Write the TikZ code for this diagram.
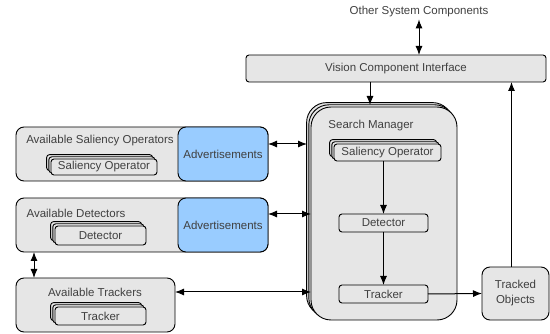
\documentclass[tikz,border=0pt]{standalone}
\usepackage{fontspec}
\setmainfont{Liberation Sans}
\usetikzlibrary{shadows,arrows.meta}
\definecolor{boxgray}{HTML}{E6E6E6}
\definecolor{advblue}{HTML}{99CCFF}
\definecolor{txtgray}{HTML}{404040}
\begin{document}
\begin{tikzpicture}[x=1pt,y=-1pt,
  font=\fontsize{11.5}{13}\selectfont, text=txtgray,
  every node/.style={outer sep=0pt, inner sep=0pt},
  box/.style={draw=black, line width=0.9pt, fill=boxgray, rounded corners=3pt, anchor=north west},
  group/.style={box, rounded corners=8pt},
  adv/.style={draw=black, line width=0.9pt, fill=advblue, rounded corners=8pt, anchor=north west},
  stack/.style={box, double copy shadow={shadow xshift=-2.2pt, shadow yshift=2.2pt, fill=boxgray, draw=black, line width=0.9pt}},
  conn/.style={line width=1pt, -{Latex[length=9pt,width=7pt]}},
  biconn/.style={line width=1pt, {Latex[length=9pt,width=7pt]}-{Latex[length=9pt,width=7pt]}},
  label/.style={anchor=center}
]
\useasboundingbox (0,0) rectangle (550,334);

% top: external components and the interface bar
\node[label] (other) at (419,12) {Other System Components};
\node[box, minimum width=300pt, minimum height=27pt] (vci) at (246,55) {};
\node[label] at (vci.center) {Vision Component Interface};

% search manager with its pipeline
\node[stack, rounded corners=20pt, minimum width=146pt, minimum height=213pt] (sm) at (311,107) {};
\node[label] (smtitle) at (371,126) {Search Manager};
\node[stack, minimum width=107pt, minimum height=17pt] (sop) at (334,144) {};
\node[label] at (sop.center) {Saliency Operator};
\node[box, minimum width=89pt, minimum height=18pt] (det) at (339,214) {};
\node[label] at (det.center) {Detector};
\node[box, minimum width=89pt, minimum height=18pt] (trk) at (339,285) {};
\node[label] at (trk.center) {Tracker};

% tracked objects
\node[group, minimum width=67pt, minimum height=53pt] (tobj) at (482,267) {};
\node[label, align=center, font=\fontsize{11.5}{15}\selectfont] at (tobj.center) {Tracked\\Objects};

% saliency operators group
\node[group, minimum width=252pt, minimum height=54pt] (asal) at (16,127) {};
\node[label] (asaltitle) at (100,141) {Available Saliency Operators};
\node[stack, minimum width=106pt, minimum height=16pt] (asop) at (51,159) {};
\node[label] at (asop.center) {Saliency Operator};
\node[adv, minimum width=90pt, minimum height=54pt] (adv1) at (178,127) {};
\node[label] at (adv1.center) {Advertisements};

% detectors group
\node[group, minimum width=252pt, minimum height=54pt] (adet) at (16,198) {};
\node[label] (adettitle) at (76,213) {Available Detectors};
\node[stack, minimum width=91pt, minimum height=19pt] (adetbox) at (55,226) {};
\node[label] at (adetbox.center) {Detector};
\node[adv, minimum width=90pt, minimum height=54pt] (adv2) at (178,198) {};
\node[label] at (adv2.center) {Advertisements};

% trackers group
\node[group, minimum width=159pt, minimum height=54pt] (atrk) at (16,278) {};
\node[label] (atrktitle) at (95,292) {Available Trackers};
\node[stack, minimum width=91pt, minimum height=18pt] (atrkbox) at (55,307) {};
\node[label] at (atrkbox.center) {Tracker};

% connectors
\draw[biconn] ([yshift=-2pt]other.south) -- (vci.north -| other.south);
\draw[conn] ([xshift=-26pt]vci.south) -- ([xshift=-26pt,yshift=2pt]vci.south |- sm.north);
\draw[conn] ([xshift=-4pt]tobj.north) -- ([xshift=-4pt]tobj.north |- vci.south);

\draw[conn] (sop.south -| det.north) -- (det.north);
\draw[conn] (det.south) -- (trk.north);
\draw[conn] (trk.east) -- (tobj.west);

\coordinate (c1) at ([yshift=10pt]adv1.east);
\draw[biconn] (c1) -- ([xshift=-4pt]c1 -| sm.west);
\coordinate (c2) at ([yshift=11pt]adv2.east);
\draw[biconn] (c2) -- (c2 -| sm.west);
\coordinate (c3) at ([yshift=13pt]atrk.east);
\draw[biconn] (c3) -- (c3 -| sm.west);
\draw[biconn] ([xshift=18pt]adet.south west) -- ([xshift=18pt]adet.south west |- atrk.north);
\end{tikzpicture}
\end{document}
